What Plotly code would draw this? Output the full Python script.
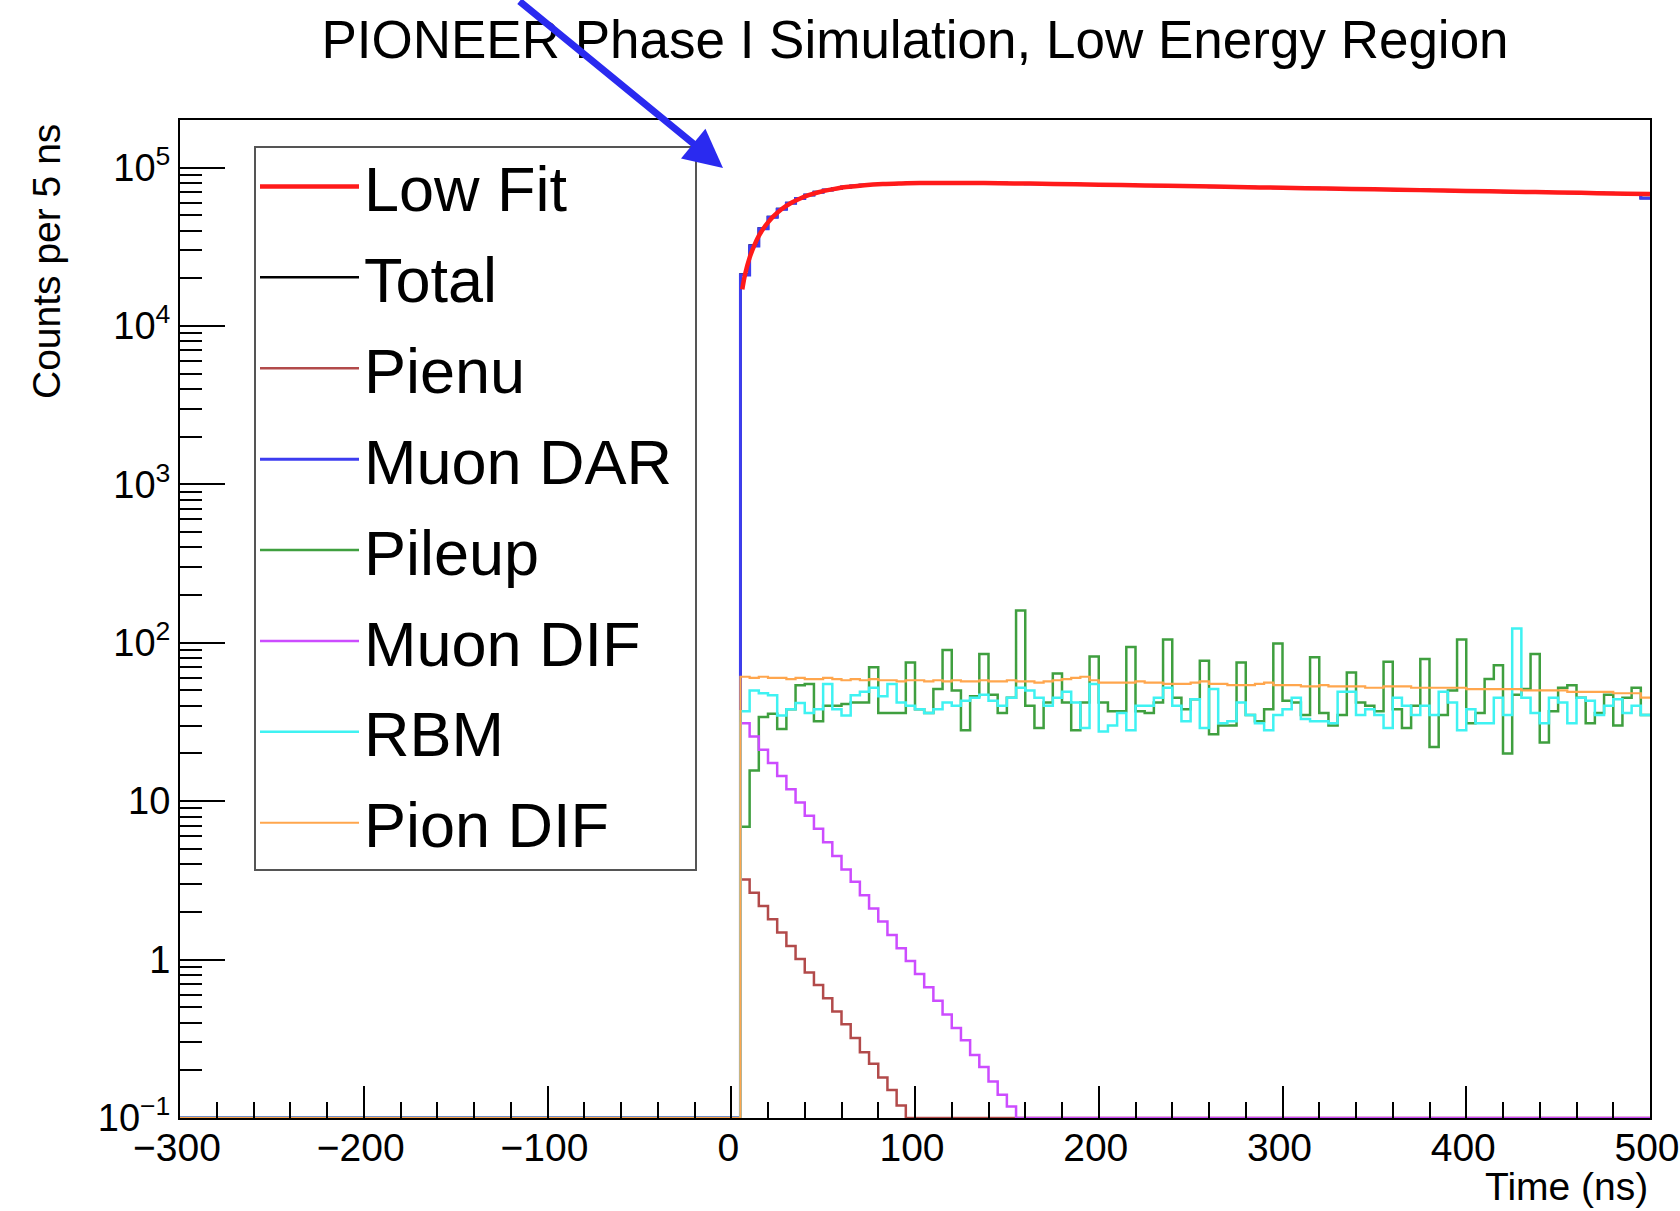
import plotly.graph_objects as go

# ---------------- data (5 ns bins, first filled bin starts at 5 ns) ----------------
bin_width = 5
x_min, x_max = -300, 500
first_filled_edge = 5

muon_dar = [21000, 32000, 41000, 48500, 54500, 59500, 63800, 67000, 69800, 72000,
            73800, 75300, 76400, 77400, 78100, 78700, 79100, 79400, 79700, 79800,
            79900, 80000, 80000, 80000, 79900, 79900, 79800, 79700, 79600, 79400,
            79300, 79100, 79000, 78800, 78700, 78500, 78400, 78200, 78000, 77820,
            77640, 77470, 77290, 77120, 76940, 76770, 76590, 76420, 76250, 76070,
            75900, 75730, 75560, 75390, 75210, 75040, 74870, 74700, 74540, 74370,
            74200, 74030, 73860, 73700, 73530, 73360, 73200, 73030, 72870, 72700,
            72540, 72370, 72210, 72050, 71880, 71720, 71560, 71400, 71230, 71070,
            70910, 70750, 70590, 70430, 70270, 70110, 69960, 69800, 69640, 69480,
            69320, 69170, 69010, 68850, 68700, 68540, 68390, 68230, 64000]

pienu = [3.2, 2.64, 2.18, 1.80, 1.48, 1.22, 1.01, 0.83, 0.69, 0.57,
         0.47, 0.39, 0.32, 0.26, 0.22, 0.18, 0.15, 0.12, 0.10, 0.083,
         0.068, 0.056, 0.046, 0.038, 0.031, 0.026, 0.021, 0.017, 0.014, 0.012] + [0] * 69

muon_dif = [31, 25.6, 21.1, 17.4, 14.4, 11.9, 9.8, 8.1, 6.7, 5.5,
            4.5, 3.7, 3.1, 2.55, 2.1, 1.74, 1.43, 1.18, 0.98, 0.81,
            0.67, 0.55, 0.45, 0.37, 0.31, 0.25, 0.21, 0.17, 0.14, 0.118,
            0.097, 0.08, 0.066, 0.054, 0.045, 0.037, 0.03, 0.025, 0.02, 0.017] + [0] * 59

pileup = [6.9, 15.6, 34, 35.6, 28.6, 38, 54, 55, 32, 40,
          40, 41, 42, 42, 70, 36, 36, 36, 75, 38,
          36, 51, 90, 50, 28, 46, 85, 47, 36, 45,
          160, 40, 29, 42, 64, 42, 28, 42, 82, 42,
          37, 37, 94, 37, 36, 42, 105, 45, 38, 44,
          77, 26.5, 30, 30, 75, 35, 32, 38, 99, 43,
          42, 35, 81, 36, 30, 35, 65, 42, 40, 37,
          76, 38, 29, 40, 79, 22, 35, 50, 105, 31,
          36, 59, 72, 20, 47, 51, 85, 23.5, 37, 52,
          54, 45, 31, 36, 47, 30, 45, 52, 35]

rbm = [37, 50, 48, 46.7, 34.7, 38, 41.7, 36, 38, 55,
       38, 34.7, 46.7, 49, 52, 46, 55, 42, 40, 38,
       36, 38, 42, 40, 43, 45, 47, 43, 40, 45,
       52, 50, 45, 40, 45, 49, 42, 29, 55, 27.5,
       30, 36, 28, 40, 40, 45, 52, 40, 32, 44,
       29, 51, 31, 32, 42, 35, 31, 28, 35, 38,
       45, 33, 32, 32, 31, 49, 49, 35, 38, 35,
       29, 45, 40, 35, 40, 35, 49, 42, 28, 38,
       31, 31, 45, 35, 123, 45, 36, 31, 45, 42,
       31, 45, 43, 35, 40, 44, 36, 40, 35]

pion_dif = [61, 60, 61, 60, 60, 59, 60, 59, 59, 60,
            59, 58, 59, 58, 59, 58, 58, 57, 58, 58,
            57, 58, 57, 58, 57, 57, 58, 57, 57, 58,
            57, 57, 56, 57, 58, 59, 60, 61, 58, 56,
            56, 56, 56, 57, 56, 56, 55, 55, 55, 56,
            57, 55, 55, 54, 54, 54, 55, 56, 54, 54,
            54, 53, 53, 54, 53, 53, 53, 53, 52, 52,
            53, 53, 53, 52, 52, 52, 52, 52, 52, 51,
            51, 51, 51, 51, 51, 50, 50, 50, 50, 50,
            49, 49, 49, 49, 49, 48, 48, 48, 45]

fit_t = [6, 7.5, 10, 12.5, 15, 17.5, 20, 22.5, 27.5, 32.5, 37.5, 42.5, 47.5, 52.5,
         57.5, 62.5, 72.5, 82.5, 92.5, 102.5, 117.5, 137.5, 162.5, 187.5, 212.5,
         237.5, 262.5, 287.5, 312.5, 337.5, 362.5, 387.5, 412.5, 437.5, 462.5,
         487.5, 500]
fit_v = [17000, 21100, 27000, 32100, 37000, 41200, 45000, 48600, 54700, 59700,
         63800, 67100, 69800, 72000, 73800, 75300, 77400, 78700, 79400, 79850,
         80000, 79800, 79150, 78360, 77530, 76650, 75780, 74920, 74080, 73240,
         72410, 71590, 70780, 69980, 69190, 68400, 68000]

x_tick_vals = [-300, -200, -100, 0, 100, 200, 300, 400, 500]
y_tick_vals = [0.1, 1, 10, 100, 1e3, 1e4, 1e5]
y_tick_text = ["10<sup>\u22121</sup>", "1", "10", "10<sup>2</sup>", "10<sup>3</sup>",
               "10<sup>4</sup>", "10<sup>5</sup>"]

# ---------------- helpers ----------------
n_bins = (x_max - x_min) // bin_width
n_empty = (first_filled_edge - x_min) // bin_width
edges = [x_min + i * bin_width for i in range(n_bins + 1)]
y_floor = 0.1  # ROOT draws empty bins on the frame bottom


def full_hist(vals):
    h = [0.0] * n_empty + list(vals)
    return h[:n_bins]


def step_y(vals):
    h = full_hist(vals)
    return [max(v, y_floor) for v in h] + [max(h[-1], y_floor)]


total = [a + b + c + d + e + f for a, b, c, d, e, f in
         zip(muon_dar, pienu, muon_dif, pileup, rbm, pion_dif)]

series = [  # (name, values, colour, width, legend rank)
    ("Total", total, "#000000", 2.5, 2),
    ("Pienu", pienu, "#b24a4a", 2.5, 3),
    ("Muon DAR", muon_dar, "#3d3df0", 3, 4),
    ("Pileup", pileup, "#3f9f3f", 2.5, 5),
    ("Muon DIF", muon_dif, "#cc4cff", 2.5, 6),
    ("RBM", rbm, "#3ff2f2", 2.5, 7),
    ("Pion DIF", pion_dif, "#ffa64d", 2.2, 8),
]

fig = go.Figure()
for name, vals, col, w, rank in series:
    fig.add_trace(go.Scatter(
        x=edges, y=step_y(vals), mode="lines", name=name,
        line=dict(color=col, width=w, shape="hv"),
        legendrank=rank, legendgroup=name,
    ))

fig.add_trace(go.Scatter(
    x=fit_t, y=fit_v, mode="lines", name="Low Fit",
    line=dict(color="#ff1a1a", width=4.5, shape="spline"),
    legendrank=1, legendgroup="Low Fit",
))

minor_x = [v for v in range(-280, 500, 20) if v % 100 != 0]
minor_y = [m * 10 ** e for e in range(-1, 6) for m in range(2, 10) if m * 10 ** e < 2e5]

font_family = "Liberation Sans, Arial, Helvetica, sans-serif"

# the page body margin is removed (post_script), so figure == window
FIG_W, FIG_H = 1680, 1211
PLOT_L, PLOT_T, PLOT_W, PLOT_H = 180, 120, 1470, 998


def px(x_page):
    return (x_page - PLOT_L) / PLOT_W


def py(y_page):
    return (PLOT_T + PLOT_H - y_page) / PLOT_H


fig.update_layout(
    width=FIG_W, height=FIG_H,
    margin=dict(l=PLOT_L, r=FIG_W - PLOT_L - PLOT_W, t=PLOT_T, b=FIG_H - PLOT_T - PLOT_H,
                autoexpand=False),
    paper_bgcolor="white", plot_bgcolor="white",
    font=dict(family=font_family, color="black"),
    title=dict(text="PIONEER Phase I Simulation, Low Energy Region",
               x=0.5, xref="paper", xanchor="center",
               y=1 - 39 / FIG_H, yref="container", yanchor="middle",
               font=dict(size=53, color="black", family=font_family)),
    showlegend=True,
    legend=dict(x=px(255), y=py(139), xanchor="left", yanchor="top",
                bgcolor="rgba(0,0,0,0)", borderwidth=0,
                font=dict(size=63, color="black", family=font_family),
                itemwidth=99, tracegroupgap=6, traceorder="grouped"),
    xaxis=dict(range=[x_min - 0.001, x_max + 0.001], tickvals=x_tick_vals,
               ticks="inside", ticklen=32, tickwidth=2, tickcolor="black",
               showline=True, linecolor="black", linewidth=2, mirror=True,
               showgrid=False, zeroline=False, ticklabelstandoff=-6,
               ticklabeloverflow="allow", ticklabelshift=-3,
               tickfont=dict(size=39, color="black"),
               minor=dict(tickmode="array", tickvals=minor_x, ticks="inside",
                          ticklen=16, tickwidth=2, tickcolor="black", showgrid=False)),
    yaxis=dict(type="log", range=[-1, 5.30], tickvals=y_tick_vals, ticktext=y_tick_text,
               ticks="inside", ticklen=45, tickwidth=2, tickcolor="black",
               showline=True, linecolor="black", linewidth=2, mirror=True,
               showgrid=False, zeroline=False,
               tickfont=dict(size=38, color="black"),
               minor=dict(tickmode="array", tickvals=minor_y, ticks="inside",
                          ticklen=22, tickwidth=2, tickcolor="black", showgrid=False)),
)

# legend frame (ROOT TLegend box)
fig.add_shape(type="rect", xref="paper", yref="paper",
              x0=px(255), x1=px(696), y0=py(870), y1=py(147),
              line=dict(color="#555555", width=2), fillcolor="white", layer="below")

fig.add_annotation(text="Counts per 5 ns", xref="paper", yref="paper",
                   x=px(46), y=py(262), textangle=-90,
                   showarrow=False, xanchor="center", yanchor="middle",
                   font=dict(size=39, color="black", family=font_family))
fig.add_annotation(text="Time (ns)", xref="paper", yref="paper",
                   x=1.0, y=py(1186), xanchor="right", yanchor="middle",
                   showarrow=False, font=dict(size=39, color="black", family=font_family))
# hand-drawn blue arrow overlay pointing at the rise
fig.add_annotation(text="", xref="paper", yref="paper",
                   x=px(723), y=py(168), ax=-205, ay=-175,
                   showarrow=True, arrowhead=2, arrowsize=1.1, arrowwidth=7,
                   arrowcolor="#2a2af0")

fig.write_html("out.html",
               config={"displayModeBar": False},
               post_script="document.body.style.margin='0';"
                           "document.body.style.overflow='hidden';")
